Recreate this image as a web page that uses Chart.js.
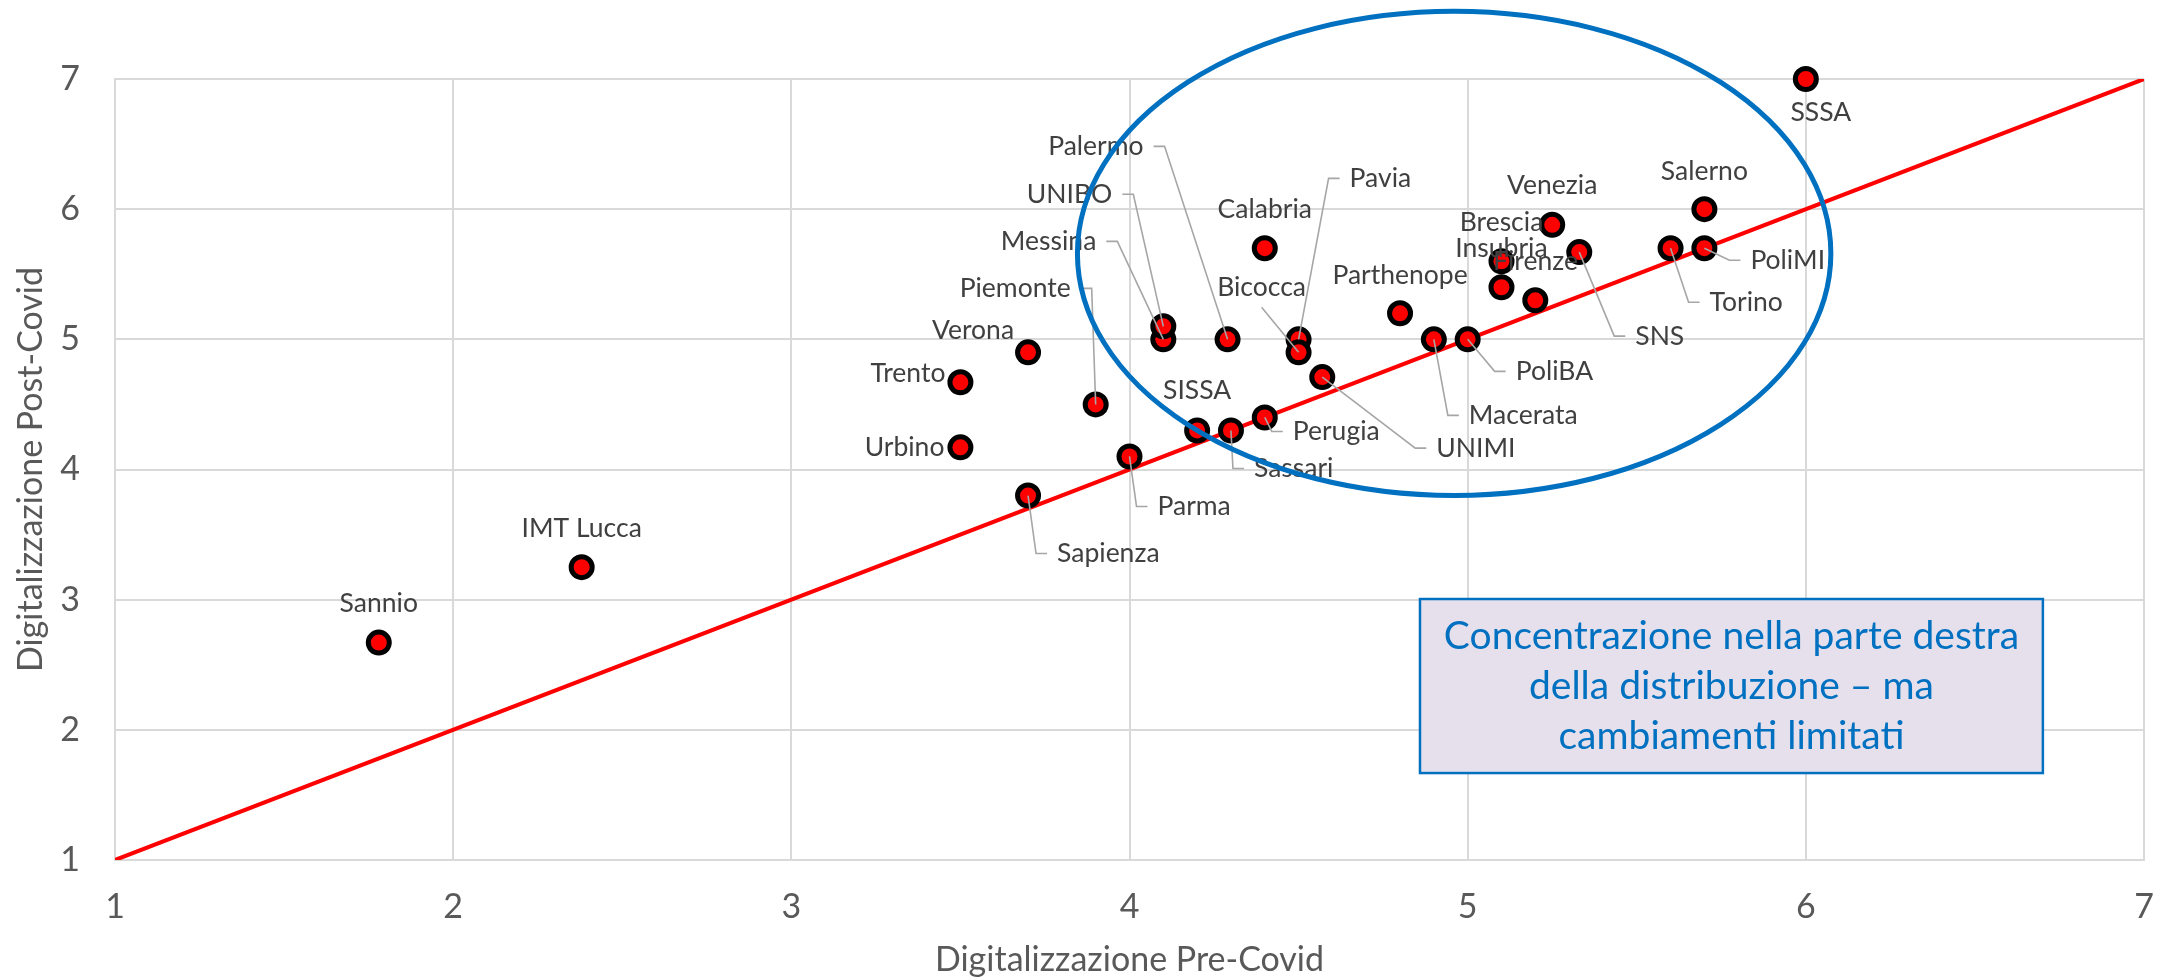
<!DOCTYPE html>
<html>
<head>
<meta charset="utf-8">
<title>Digitalizzazione pre e post Covid</title>
<script src="https://cdn.jsdelivr.net/npm/chart.js@4.4.1/dist/chart.umd.min.js"></script>
<style>
  html, body { margin: 0; padding: 0; background: #ffffff; }
  #wrap { width: 2167px; height: 980px; }
</style>
</head>
<body>
<div id="wrap"><canvas id="chart" width="2167" height="980"></canvas></div>
<script>
// Atenei
const universities = ['Sannio', 'IMT Lucca', 'Trento', 'Urbino', 'Verona', 'Sapienza', 'Piemonte', 'Parma',
    'Messina', 'UNIBO', 'Palermo', 'SISSA', 'Sassari', 'Perugia', 'Calabria', 'Pavia', 'Bicocca', 'UNIMI',
    'Parthenope', 'Macerata', 'PoliBA', 'Venezia', 'Brescia', 'Insubria', 'Firenze', 'SNS', 'Salerno',
    'Torino', 'PoliMI', 'SSSA'];

// Digitalizzazione Pre-Covid (x)
const preCovid = [1.78, 2.38, 3.5, 3.5, 3.7, 3.7, 3.9, 4.0,
    4.1, 4.1, 4.29, 4.2, 4.3, 4.4, 4.4, 4.5, 4.5, 4.57,
    4.8, 4.9, 5.0, 5.25, 5.2, 5.1, 5.1, 5.33, 5.7,
    5.6, 5.7, 6.0];

// Digitalizzazione Post-Covid (y)
const postCovid = [2.67, 3.25, 4.67, 4.17, 4.9, 3.8, 4.5, 4.1,
    5.0, 5.1, 5.0, 4.3, 4.3, 4.4, 5.7, 5.0, 4.9, 4.71,
    5.2, 5.0, 5.0, 5.88, 5.3, 5.6, 5.4, 5.67, 6.0,
    5.7, 5.7, 7.0];

// Bisettrice y = x
const diagonalX = [1, 7];
const diagonalY = [1, 7];

// Tick degli assi
const xTicks = [1, 2, 3, 4, 5, 6, 7];
const yTicks = [1, 2, 3, 4, 5, 6, 7];

// Testo del riquadro
const noteLines = ['Concentrazione nella parte destra', 'della distribuzione – ma', 'cambiamenti limitati'];

// Posizione delle etichette rispetto al punto: [allineamento, dx, dy, linea guida]
// c = centrata, l = testo a destra del punto, r = testo a sinistra del punto
const labelLayout = {
    'Sannio': ['c', 0, -39, 0],
    'IMT Lucca': ['c', 0, -39, 0],
    'Trento': ['r', -15, -9, 0],
    'Urbino': ['r', -16, 0, 0],
    'Verona': ['r', -14, -22, 0],
    'Sapienza': ['l', 29, 58, 1],
    'Piemonte': ['r', -25, -116, 1],
    'Parma': ['l', 28, 50, 1],
    'Messina': ['r', -67, -98, 1],
    'UNIBO': ['r', -51, -132, 1],
    'Palermo': ['r', -84, -193, 1],
    'SISSA': ['c', 0, -40, 0],
    'Sassari': ['l', 23, 38, 1],
    'Perugia': ['l', 28, 14, 1],
    'Calabria': ['c', 0, -39, 0],
    'Pavia': ['l', 51, -161, 1],
    'Bicocca': ['c', -37, -65, 2],
    'UNIMI': ['l', 114, 71, 1],
    'Parthenope': ['c', 0, -38, 0],
    'Macerata': ['l', 35, 76, 1],
    'PoliBA': ['l', 48, 32, 1],
    'Venezia': ['c', 0, -39, 0],
    'Brescia': ['r', 8, -78, 0],
    'Insubria': ['c', 0, -13, 0],
    'Firenze': ['c', 34, -26, 0],
    'SNS': ['l', 56, 84, 1],
    'Salerno': ['c', 0, -38, 0],
    'Torino': ['l', 39, 54, 1],
    'PoliMI': ['l', 46, 12, 1],
    'SSSA': ['c', 15, 33, 0]
};

// Ellisse (centro e semiassi in unità degli assi) e riquadro di testo
const ellipseShape = { cx: 4.96, cy: 5.66, rx: 1.114, ry: 1.86 };
const noteBox = { x0: 4.859, x1: 6.701, y0: 3.005, y1: 1.668 };

Chart.defaults.font.family = 'Lato';

const ctx = document.getElementById('chart').getContext('2d');

// Etichette, linee guida, ellisse e riquadro
const overlayPlugin = {
    id: 'overlay',
    afterDatasetsDraw(chart) {
        const c = chart.ctx;
        const xs = chart.scales.x;
        const ys = chart.scales.y;
        const meta = chart.getDatasetMeta(0);

        c.save();
        c.font = '26.5px Lato';
        c.textBaseline = 'middle';

        // linee guida
        c.strokeStyle = '#A6A6A6';
        c.lineWidth = 1.6;
        meta.data.forEach((pt, i) => {
            const name = universities[i];
            const [align, dx, dy, leader] = labelLayout[name];
            if (!leader) return;
            const tx = pt.x + dx, ty = pt.y + dy;
            const w = c.measureText(name).width;
            const left = align === 'l' ? tx : align === 'r' ? tx - w : tx - w / 2;
            c.beginPath();
            if (leader === 2) {
                c.moveTo(tx, ty + 20);
            } else if (align === 'l') {
                c.moveTo(left - 10, ty);
                c.lineTo(left - 21, ty);
            } else {
                c.moveTo(left + w + 10, ty);
                c.lineTo(left + w + 21, ty);
            }
            c.lineTo(pt.x, pt.y);
            c.stroke();
        });

        // etichette
        c.fillStyle = '#404040';
        meta.data.forEach((pt, i) => {
            const name = universities[i];
            const [align, dx, dy] = labelLayout[name];
            c.textAlign = align === 'l' ? 'left' : align === 'r' ? 'right' : 'center';
            c.fillText(name, pt.x + dx, pt.y + dy);
        });

        // ellisse
        const ecx = xs.getPixelForValue(ellipseShape.cx);
        const ecy = ys.getPixelForValue(ellipseShape.cy);
        const erx = xs.getPixelForValue(ellipseShape.cx + ellipseShape.rx) - ecx;
        const ery = ecy - ys.getPixelForValue(ellipseShape.cy + ellipseShape.ry);
        c.beginPath();
        c.ellipse(ecx, ecy, erx, ery, 0, 0, Math.PI * 2);
        c.strokeStyle = '#0070C0';
        c.lineWidth = 5;
        c.stroke();

        // riquadro
        const bx0 = xs.getPixelForValue(noteBox.x0);
        const bx1 = xs.getPixelForValue(noteBox.x1);
        const by0 = ys.getPixelForValue(noteBox.y0);
        const by1 = ys.getPixelForValue(noteBox.y1);
        c.fillStyle = '#E6E0EC';
        c.fillRect(bx0, by0, bx1 - bx0, by1 - by0);
        c.strokeStyle = '#0070C0';
        c.lineWidth = 2.5;
        c.strokeRect(bx0, by0, bx1 - bx0, by1 - by0);

        c.fillStyle = '#0070C0';
        c.font = '39px Lato';
        c.textAlign = 'center';
        const midX = (bx0 + bx1) / 2;
        const midY = (by0 + by1) / 2;
        noteLines.forEach((line, k) => {
            c.fillText(line, midX, midY + (k - 1) * 50);
        });
        c.restore();
    }
};

const chart = new Chart(ctx, {
    type: 'scatter',
    data: {
        datasets: [
            {
                label: 'Atenei',
                data: preCovid.map((x, i) => ({ x: x, y: postCovid[i] })),
                backgroundColor: '#FF0000',
                borderColor: '#000000',
                pointRadius: 10.5,
                pointBorderWidth: 5,
                pointHoverRadius: 10.5,
                clip: false,
                order: 1
            },
            {
                type: 'line',
                label: 'Bisettrice',
                data: diagonalX.map((x, i) => ({ x: x, y: diagonalY[i] })),
                borderColor: '#FF0000',
                borderWidth: 4,
                pointRadius: 0,
                fill: false,
                order: 2
            }
        ]
    },
    options: {
        responsive: false,
        animation: false,
        layout: {
            autoPadding: false,
            padding: { left: 0, right: 23, top: 79, bottom: 0 }
        },
        plugins: {
            legend: { display: false },
            tooltip: { enabled: false }
        },
        scales: {
            x: {
                type: 'linear',
                min: xTicks[0],
                max: xTicks[xTicks.length - 1],
                afterBuildTicks: scale => { scale.ticks = xTicks.map(v => ({ value: v })); },
                afterFit: scale => { scale.height = 120; },
                // tick invisibili lunghi per distanziare le etichette senza allargare il margine destro
                grid: { color: '#D9D9D9', lineWidth: 2, drawTicks: true, tickLength: 27, tickColor: 'rgba(0,0,0,0)' },
                border: { color: '#D9D9D9', width: 2 },
                ticks: { color: '#595959', font: { size: 34 }, padding: 0 },
                title: {
                    display: true,
                    text: 'Digitalizzazione Pre-Covid',
                    color: '#595959',
                    font: { size: 34 },
                    padding: { top: 0, bottom: 0 }
                }
            },
            y: {
                type: 'linear',
                min: yTicks[0],
                max: yTicks[yTicks.length - 1],
                afterBuildTicks: scale => { scale.ticks = yTicks.map(v => ({ value: v })); },
                afterFit: scale => { scale.width = 115; },
                grid: { color: '#D9D9D9', lineWidth: 2, drawTicks: false },
                border: { color: '#D9D9D9', width: 2 },
                ticks: { color: '#595959', font: { size: 34 }, padding: 35 },
                title: {
                    display: true,
                    text: 'Digitalizzazione Post-Covid',
                    color: '#595959',
                    font: { size: 34 },
                    padding: { top: 11, bottom: 0 }
                }
            }
        }
    },
    plugins: [overlayPlugin]
});
</script>
</body>
</html>
